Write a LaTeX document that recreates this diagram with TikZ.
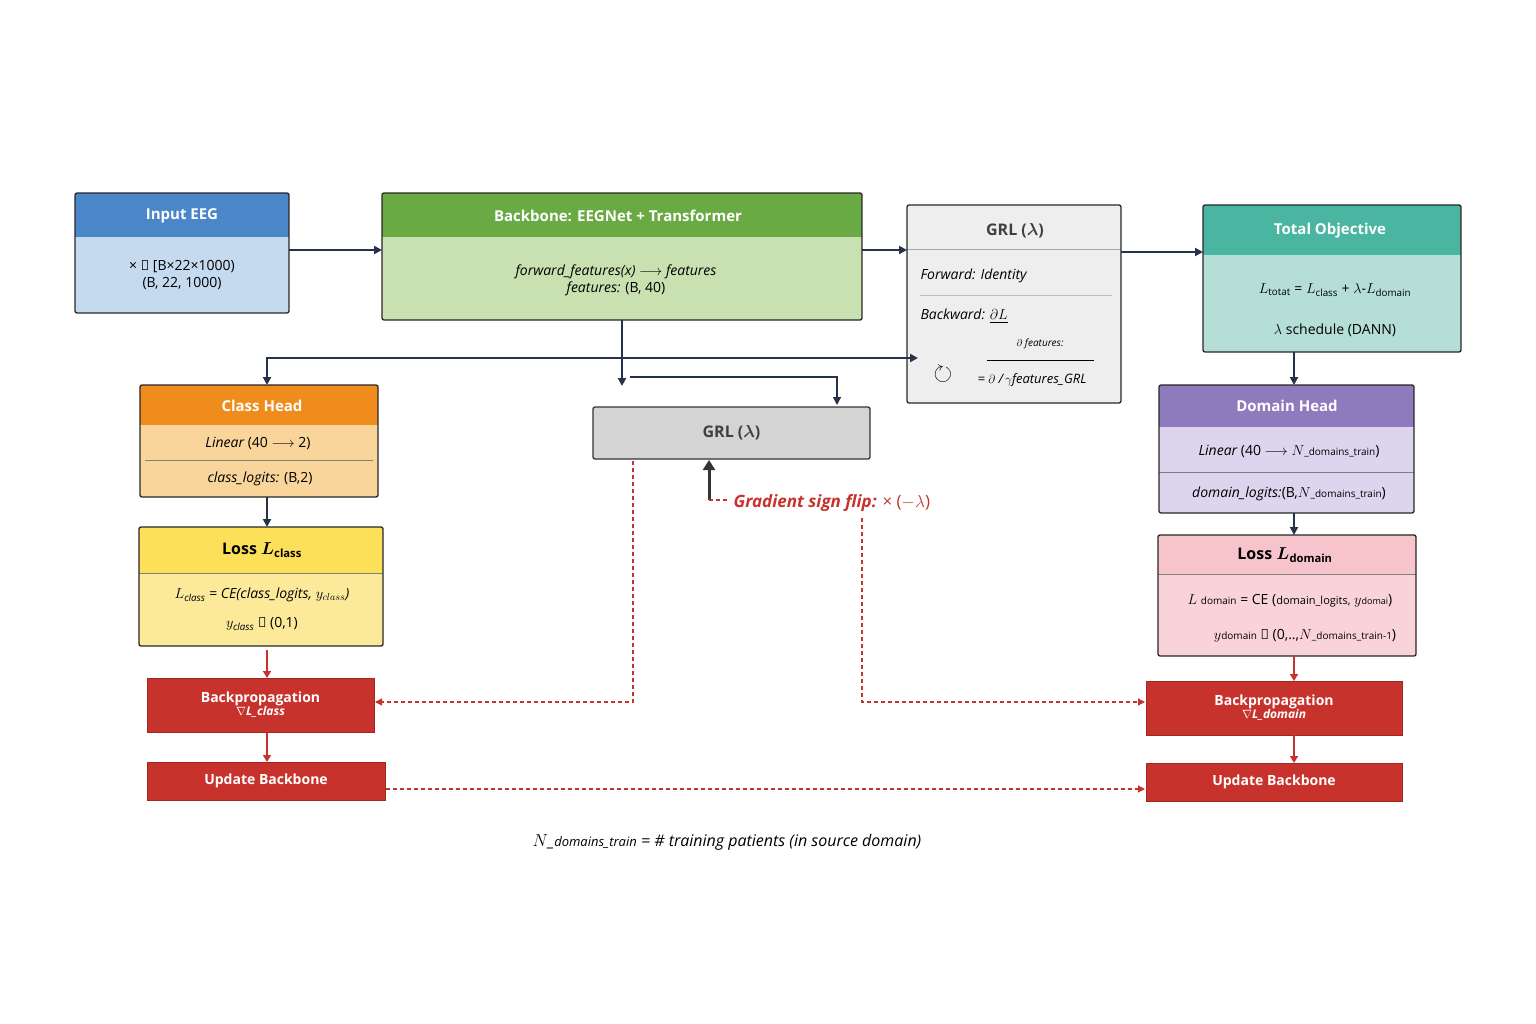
\documentclass[tikz,border=0pt]{standalone}
\usepackage{amsmath,amssymb}
\usepackage{fontspec}
\setmainfont{Open Sans}
\usetikzlibrary{arrows.meta}
\definecolor{dk}{HTML}{26324A}
\definecolor{rd}{HTML}{C8322C}
\begin{document}
\begin{tikzpicture}[x=1pt,y=-1pt,
 box/.style={draw=black!85,line width=1.3pt,rounded corners=2pt},
 hd/.style={font=\fontsize{15}{17}\selectfont\bfseries,text=white},
 bd/.style={font=\fontsize{14}{17}\selectfont},
 dk/.style={draw=dk,line width=2.2pt,-{Triangle[length=8pt,width=8pt]}},
 rdar/.style={draw=rd,line width=2.2pt,-{Triangle[length=7pt,width=8pt]}},
 dsh/.style={draw=rd,line width=1.2pt,dash pattern=on 4pt off 3pt,-{Triangle[length=7pt,width=7pt]}},
 red/.style={fill=rd,draw=rd!80!black,line width=0.8pt,font=\fontsize{14}{16}\selectfont\bfseries,text=white,align=center}]
\useasboundingbox (0,0) rectangle (1536,1024);
% Input EEG
\fill[fill={rgb,255:red,74;green,134;blue,200}] (75,193) rectangle (289,237);
\fill[fill={rgb,255:red,197;green,217;blue,239}] (75,237) rectangle (289,313);
\draw[box] (75,193) rectangle (289,313);
\node[hd] (inp) at (182,216) {Input EEG};
\node[bd,align=center] (inpb) at (182,275) {× ∈ [B×22×1000)\\(B, 22, 1000)};
% Backbone
\fill[fill={rgb,255:red,106;green,170;blue,69}] (382,193) rectangle (862,237);
\fill[fill={rgb,255:red,201;green,224;blue,176}] (382,237) rectangle (862,320);
\draw[box] (382,193) rectangle (862,320);
\node[hd] (bb) at (618,216) {Backbone: EEGNet + Transformer};
\node[bd,align=center] (bbb) at (616,280) {\itshape forward\_features(x) $\longrightarrow$ features\\\textit{features:} (B, 40)};
% GRL top
\fill[fill={rgb,255:red,238;green,238;blue,238}] (907,205) rectangle (1121,403);
\draw[gray!70,line width=1pt] (907,250) -- (1121,250);
\draw[gray!50] (920,295) -- (1112,295);
\draw[box] (907,205) rectangle (1121,403);
\node[font=\fontsize{16}{18}\selectfont\bfseries,text=black!75] (grlt) at (1015,231) {GRL ($\boldsymbol\lambda$)};
\node[bd,anchor=west] (fw) at (917,276) {\itshape Forward: Identity};
\node[bd,anchor=west] (bw) at (917,316) {\itshape Backward: \underline{$\partial L$}};
\node[font=\fontsize{10}{12}\selectfont\itshape] (df) at (1040,344) {$\partial$ features:};
\draw[line width=1pt] (987,360) -- (1094,360);
\node[font=\fontsize{24}{24}\selectfont\bfseries] (curl) at (943,374) {$\boldsymbol\circlearrowright$};
\node[font=\fontsize{10}{12}\selectfont\itshape] (eq) at (1032,380) {\fontsize{13}{13}\selectfont = $\partial$ /\,$\gamma$features\_GRL};
% Total Objective
\fill[fill={rgb,255:red,74;green,181;blue,160}] (1203,205) rectangle (1461,255);
\fill[fill={rgb,255:red,180;green,222;blue,214}] (1203,255) rectangle (1461,352);
\draw[box] (1203,205) rectangle (1461,352);
\node[hd] (to) at (1330,231) {Total Objective};
\node[bd] (tob) at (1335,290) {$L_{\text{totat}}$ = $L_{\text{class}}$ + $\lambda$-$L_{\text{domain}}$};
\node[bd] (tos) at (1335,330) {$\lambda$ schedule (DANN)};
% Class head
\fill[fill={rgb,255:red,239;green,140;blue,28}] (140,385) rectangle (378,425);
\fill[fill={rgb,255:red,249;green,213;blue,155}] (140,425) rectangle (378,497);
\draw[black!50] (145,460) -- (373,460);
\draw[box] (140,385) rectangle (378,497);
\node[hd] (ch) at (262,406) {Class Head};
\node[bd] (chl) at (258,443) {\itshape Linear \upshape(40 $\longrightarrow$ 2)};
\node[bd] (chc) at (260,479) {\itshape class\_logits: \upshape(B,2)};
% Loss class
\fill[fill={rgb,255:red,252;green,224;blue,90}] (139,527) rectangle (383,573);
\fill[fill={rgb,255:red,252;green,233;blue,154}] (139,573) rectangle (383,646);
\draw[black!50] (139,573) -- (383,573);
\draw[box] (139,527) rectangle (383,646);
\node[font=\fontsize{16}{18}\selectfont\bfseries] (lc) at (262,550) {Loss $\boldsymbol{L}_{\text{class}}$};
\node[bd] (lcb) at (262,595) {$L_{\mathit{class}}$ = \itshape CE(class\_logits, $y_{class}$)};
\node[bd] (lcy) at (262,624) {$y_{\mathit{class}}$ ∈ (0,1)};
% Backprop / update class
\node[red,minimum width=227pt,minimum height=54pt,inner sep=0pt] (bpc) at (260.5,705) {Backpropagation\\[-3pt]{\fontsize{12}{12}\selectfont\itshape $\nabla$L\_class}};
\node[red,minimum width=238pt,minimum height=38pt,inner sep=0pt] (upc) at (266,781) {Update Backbone};
% GRL middle
\node[draw=black!80,line width=1.3pt,fill={rgb,255:red,212;green,212;blue,212},rounded corners=2pt,minimum width=277pt,minimum height=52pt,font=\fontsize{16}{18}\selectfont\bfseries,text=black!75] (grlm) at (731.5,433) {GRL ($\boldsymbol\lambda$)};
% Domain head
\fill[fill={rgb,255:red,142;green,123;blue,189}] (1159,385) rectangle (1414,427);
\fill[fill={rgb,255:red,221;green,212;blue,238}] (1159,427) rectangle (1414,513);
\draw[black!50] (1159,472) -- (1414,472);
\draw[box] (1159,385) rectangle (1414,513);
\node[hd] (dh) at (1287,406) {Domain Head};
\node[bd] (dhl) at (1289,451) {\itshape Linear \upshape(40 $\longrightarrow$ $N${\fontsize{10}{10}\selectfont\_domains\_train})};
\node[bd] (dhc) at (1289,494) {\itshape domain\_logits:\upshape(B,$N${\fontsize{10}{10}\selectfont\_domains\_train})};
% Loss domain
\fill[fill={rgb,255:red,247;green,196;blue,204}] (1158,535) rectangle (1416,574);
\fill[fill={rgb,255:red,250;green,211;blue,217}] (1158,574) rectangle (1416,656);
\draw[black!50] (1158,574) -- (1416,574);
\draw[box] (1158,535) rectangle (1416,656);
\node[font=\fontsize{16}{18}\selectfont\bfseries] (ld) at (1285,555) {Loss $\boldsymbol{L}_{\text{domain}}$};
\node[bd] (ldb) at (1290,601) {$L$ {\fontsize{10}{10}\selectfont domain} = CE ({\fontsize{11}{11}\selectfont domain\_logits,} $y${\fontsize{9}{9}\selectfont domai})};
\node[bd] (ldy) at (1305,636) {$y${\fontsize{10}{10}\selectfont domain} ∈ (0,..,$N${\fontsize{10}{10}\selectfont\_domains\_train-1})};
\node[red,minimum width=256pt,minimum height=54pt,inner sep=0pt] (bpd) at (1274,708) {Backpropagation\\[-3pt]{\fontsize{12}{12}\selectfont\itshape $\nabla$L\_domain}};
\node[red,minimum width=256pt,minimum height=38pt,inner sep=0pt] (upd) at (1274,782) {Update Backbone};
% connectors
\draw[dk] (289,250) -- (382,250);
\draw[dk] (862,250) -- (907,250);
\draw[dk] (1121,252) -- (1203,252);
\draw[dk] (1294,352) -- (1294,385);
\coordinate (sp) at (622,358);
\draw[dk,-] (622,320) -- (sp);
\draw[dk] (sp) -- (918,358);
\draw[dk] (sp) -- (267,358) -- (267,385);
\draw[dk] (sp) -- (622,386);
\draw[draw=dk,line width=1.5pt,-{Triangle[length=8pt,width=8pt]}] (630,377) -- (837,377) -- (837,405);
\draw[dk] (267,497) -- (267,527);
\draw[dk] (1294,513) -- (1294,535);
\draw[rdar] (267,650) -- (267,678);
\draw[rdar] (267,732) -- (267,762);
\draw[rdar] (1294,656) -- (1294,681);
\draw[rdar] (1294,735) -- (1294,763);
\draw[dsh] (633,461) -- (633,702) -- (375,702);
\draw[dsh] (862,518) -- (862,702) -- (1145,702);
\draw[dsh] (386,789) -- (1145,789);
\coordinate (gs) at (709,500);
\draw[draw=black!80,line width=3pt,-{Triangle[length=10pt,width=12pt]}] (gs) -- (709,460);
\draw[draw=rd,line width=1.2pt,dash pattern=on 4pt off 3pt] (gs) -- (727,500);
\node[font=\fontsize{17}{19}\selectfont\bfseries\itshape,text=rd,anchor=west] (gsl) at (730,503) {Gradient sign flip: \mdseries\upshape × ($-\lambda$)};
\node[font=\fontsize{16}{18}\selectfont\itshape] (foot) at (727,842) {$N$\_{\fontsize{13}{13}\selectfont domains\_train} = \# training patients (in source domain)};
\end{tikzpicture}
\end{document}
